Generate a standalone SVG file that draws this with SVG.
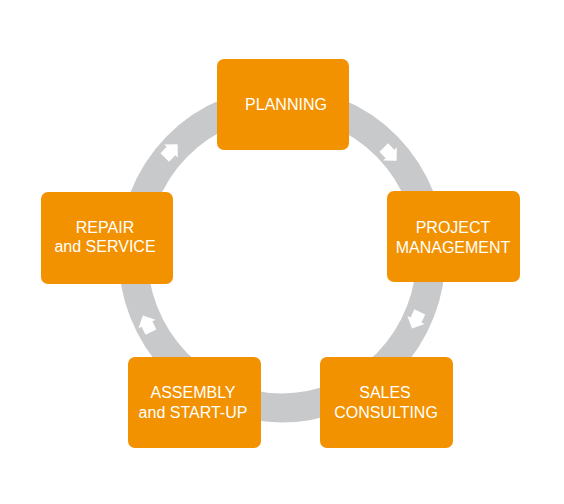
<svg xmlns="http://www.w3.org/2000/svg" width="564" height="504" viewBox="0 0 564 504">
<style>
.box{fill:#F39200;}
.lbl{font-family:"Liberation Sans",Arial,sans-serif;font-size:16px;fill:#FFFFFF;text-anchor:middle;}
.arr{fill:#FFFFFF;}
</style>
<defs>
<polygon id="blk" points="-9,-6 0,-6 0,-9.5 9.5,0 0,9.5 0,6 -9,6"/>
</defs>
<rect width="564" height="504" fill="#FFFFFF"/>
<g id="connectors">
<ellipse cx="282" cy="255" rx="149" ry="153" fill="none" stroke="#C8C9CB" stroke-width="29"/>
<use href="#blk" class="arr" transform="translate(171,151) rotate(-46)"/>
<use href="#blk" class="arr" transform="translate(390,154) rotate(46)"/>
<use href="#blk" class="arr" transform="translate(416,320) rotate(115)"/>
<use href="#blk" class="arr" transform="translate(147,324) rotate(-116)"/>
</g>
<g id="planning">
<rect class="box" x="217" y="59" width="132" height="91" rx="7"/>
<text class="lbl" x="286" y="110">PLANNING</text>
</g>
<g id="project-management">
<rect class="box" x="387" y="191" width="133" height="91" rx="7"/>
<text class="lbl" x="453" y="233">PROJECT</text>
<text class="lbl" x="453" y="253">MANAGEMENT</text>
</g>
<g id="sales-consulting">
<rect class="box" x="320" y="357" width="133" height="91" rx="7"/>
<text class="lbl" x="385" y="398">SALES</text>
<text class="lbl" x="386" y="418">CONSULTING</text>
</g>
<g id="assembly">
<rect class="box" x="128" y="357" width="133" height="91" rx="7"/>
<text class="lbl" x="193" y="398">ASSEMBLY</text>
<text class="lbl" x="193" y="418">and START-UP</text>
</g>
<g id="repair">
<rect class="box" x="41" y="192" width="132" height="92" rx="7"/>
<text class="lbl" x="105" y="233">REPAIR</text>
<text class="lbl" x="105" y="252">and SERVICE</text>
</g>
</svg>
